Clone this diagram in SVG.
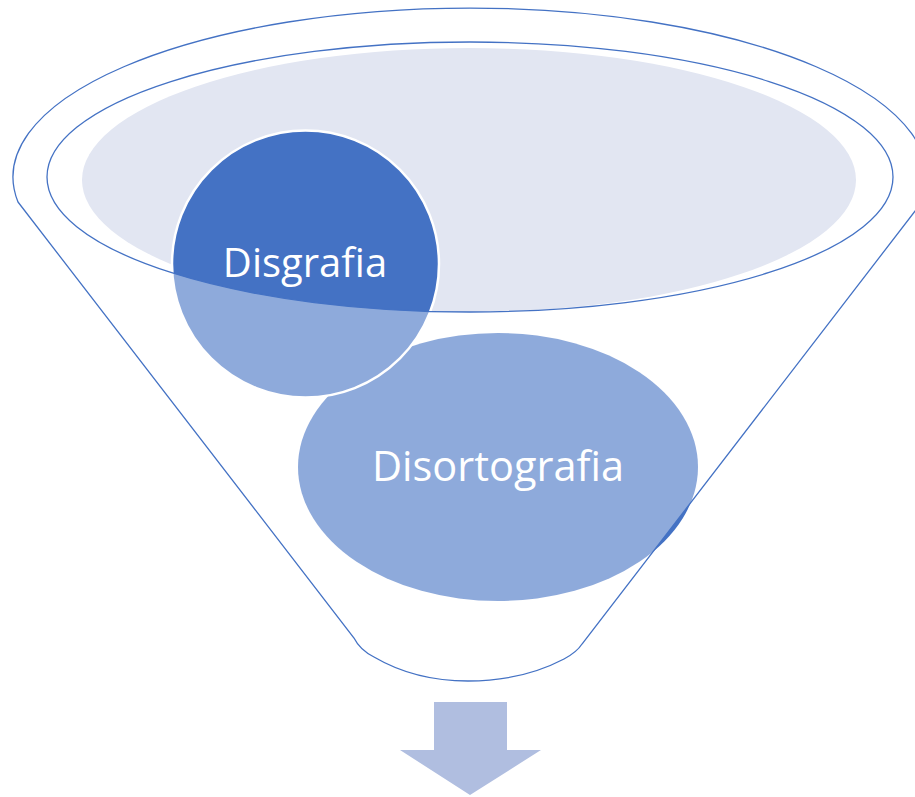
<svg xmlns="http://www.w3.org/2000/svg" width="915" height="797" viewBox="0 0 915 797">
  <style>
    .outline { fill: none; stroke: #4472C4; stroke-width: 1.3; }
    .label { font-family: "Open Sans", "Liberation Sans", sans-serif; font-size: 40px; fill: #FFFFFF; text-anchor: middle; }
    .dark { fill: #4472C4; }
  </style>
  <rect width="915" height="797" fill="#FFFFFF"/>
  <g id="funnel-top">
    <ellipse cx="469" cy="180" rx="387" ry="132" fill="#E2E6F2"/>
  </g>
  <g id="node-disortografia">
    <ellipse class="dark" cx="498" cy="467" rx="200" ry="134"/>
  </g>
  <g id="node-disgrafia">
    <circle class="dark" cx="305.5" cy="264" r="133.5" stroke="#FFFFFF" stroke-width="2.5"/>
  </g>
  <g id="funnel-body">
    <path fill="#FFFFFF" fill-opacity="0.4" fill-rule="evenodd"
      d="M18,202 L354,638 Q360,650 374,657 Q415,681 468,681 Q522,681 564,659 Q577,652 582,644 L922,202 A457,169 0 1 0 18,202 Z M47,177 A423,135 0 1 0 893,177 A423,135 0 1 0 47,177 Z"/>
    <path class="outline" d="M18,202 L354,638 Q360,650 374,657 Q415,681 468,681 Q522,681 564,659 Q577,652 582,644 L922,202 A457,169 0 1 0 18,202 Z"/>
    <ellipse class="outline" cx="470" cy="177" rx="423" ry="135"/>
  </g>
  <g id="labels">
    <text class="label" x="305" y="277">Disgrafia</text>
    <text class="label" x="498" y="481" style="font-size:41.5px">Disortografia</text>
  </g>
  <g id="connectors">
    <path fill="#B0BEE0" d="M434,702 L507,702 L507,750 L541,750 L470,795 L400,750 L434,750 Z"/>
  </g>
</svg>
